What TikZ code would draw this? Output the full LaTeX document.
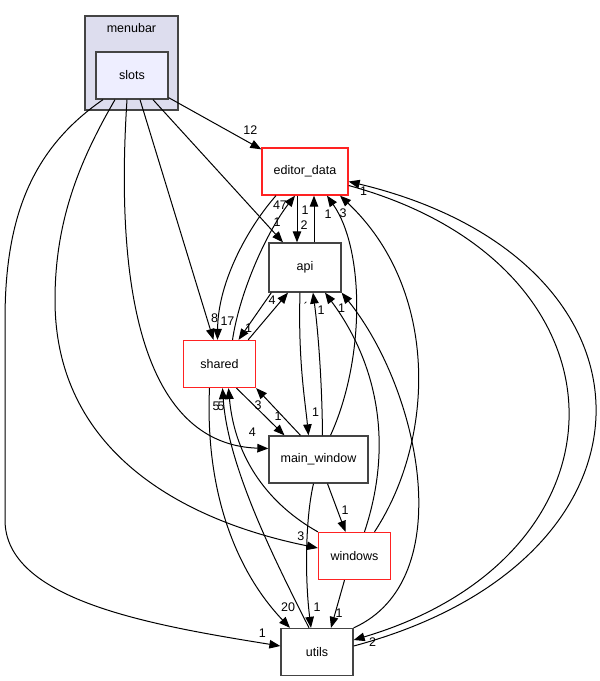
\documentclass[tikz,border=0pt]{standalone}
\usepackage{fontspec}
\setmainfont{Liberation Sans}
\usetikzlibrary{arrows.meta,positioning}
\definecolor{boxgray}{HTML}{444444}
\definecolor{boxred}{HTML}{FF2222}
\definecolor{clusterfill}{HTML}{DDDDEE}
\definecolor{slotsfill}{HTML}{EEEEFF}

\begin{document}
\begin{tikzpicture}[x=1pt, y=-1pt,
        font=\fontsize{12.5}{15}\selectfont,
        >={Triangle[length=11pt,width=8.5pt]},
        dir/.style={draw=boxgray, line width=1.3pt, inner sep=0pt, minimum width=72pt, minimum height=47pt},
        reddir/.style={dir, draw=boxred},
        cluster/.style={draw=boxgray, fill=clusterfill, line width=1.3pt, minimum width=93pt, minimum height=94pt},
        dep/.style={->, line width=1pt},
        lbl/.style={inner sep=0pt, at end}]
        \useasboundingbox (0, 0) rectangle (600, 681);

        \node[cluster] at (131.5, 63)(menubar){};
        \node at (131.5, 28)(menubar-title){menubar};
        \node[dir, fill=slotsfill] at (132, 75.5)(slots){slots};
        \node[reddir, minimum width=86pt] at (305, 171.5)(editor_data){editor\_data};
        \node[dir, minimum height=49pt] at (305, 267.5)(api){api};
        \node[reddir] at (219.5, 364)(shared){shared};
        \node[dir, minimum width=99pt] at (318.5, 459.5)(main_window){main\_window};
        \node[reddir] at (354.5, 556)(windows){windows};
        \node[dir] at (317, 652)(utils){utils};

        % slots
        \draw[dep] ([yshift=2pt]slots.south east) -- ([yshift=-2pt]editor_data.north west) node[lbl, shift={(-11,-19)}]{12};
        \draw[dep] ([xshift=21pt]slots.south) -- ([xshift=-22pt]api.north) node[lbl, shift={(-6,-20)}]{1};
        \draw[dep] ([xshift=8pt]slots.south) -- ([xshift=-6pt]shared.north) node[lbl, shift={(1,-22)}]{8};
        \draw[dep] ([xshift=-5pt]slots.south) .. controls (112, 330) and (160, 445) .. ([yshift=11pt]main_window.west) node[lbl, shift={(-16,-16)}]{4};
        \draw[dep] ([xshift=-17pt]slots.south) .. controls (80, 160) and (55, 220) .. (55, 300)
            .. controls (55, 450) and (180, 520) .. ([yshift=8pt]windows.west) node[lbl, shift={(-17,-12)}]{3};
        \draw[dep] ([xshift=-29pt]slots.south) .. controls (30, 150) and (5, 220) .. (5, 320) -- (5, 520)
            .. controls (5, 600) and (150, 625) .. ([yshift=6pt]utils.west) node[lbl, shift={(-18,-13)}]{1};

        % editor_data
        \draw[dep] ([xshift=13pt]shared.north) .. controls (240, 290) and (268, 230) .. ([xshift=-10pt]editor_data.south) node[lbl, shift={(-15,10)}]{47};
        \draw[dep] ([xshift=-29pt]editor_data.south) .. controls (250, 225) and (218, 280) .. ([xshift=-2pt]shared.north) node[lbl, shift={(10,-19)}]{17};
        \draw[dep] ([xshift=9pt]api.north) -- ([xshift=9pt]editor_data.south) node[lbl, shift={(-9,15)}]{1};
        \draw[dep] ([xshift=-8pt]editor_data.south) -- ([xshift=-8pt]api.north) node[lbl, shift={(7,-17)}]{2};
        \draw[dep] ([xshift=12pt]main_window.north) .. controls (365, 360) and (365, 250) .. ([xshift=22pt]editor_data.south) node[lbl, shift={(1,19)}]{1};
        \draw[dep] ([xshift=20pt]windows.north) .. controls (435, 440) and (440, 290) .. ([xshift=35pt]editor_data.south) node[lbl, shift={(3,18)}]{3};
        \draw[dep] ([yshift=6pt]utils.east) .. controls (676, 560) and (676, 260) .. ([yshift=-10pt]editor_data.east) node[lbl, shift={(15,10)}]{1};
        \draw[dep] ([yshift=-14pt]editor_data.east) .. controls (640, 265) and (640, 555) .. ([yshift=12pt]utils.east) node[lbl, shift={(19,2)}]{2};

        % api
        \draw[dep] ([xshift=-8pt]shared.north east) -- ([xshift=-17pt]api.south) node[lbl, shift={(-16,8)}]{4};
        \draw[dep] ([xshift=3pt]api.south west) -- ([xshift=19pt]shared.north) node[lbl, shift={(10,-12)}]{1};
        \draw[dep] ([xshift=-5pt]api.south) .. controls (298, 360) and (305, 400) .. ([xshift=-10pt]main_window.north) node[lbl, shift={(7,-23)}]{1};
        \draw[dep] ([xshift=4pt]main_window.north) .. controls (322, 380) and (318, 330) .. ([xshift=8pt]api.south) node[lbl, shift={(-7,14)}]{´};
        \draw[dep] ([xshift=10pt]windows.north) .. controls (395, 440) and (375, 360) .. ([xshift=20pt]api.south) node[lbl, shift={(-4,18)}]{1};
        \draw[dep] (utils.north east) .. controls (460, 580) and (420, 390) .. (api.south east) node[lbl, shift={(0,16)}]{1};

        % shared, main_window, windows, utils
        \draw[dep] ([xshift=17pt]shared.south) -- ([xshift=-34pt]main_window.north) node[lbl, shift={(-6.5,-19)}]{1};
        \draw[dep] ([xshift=-18pt]main_window.north) -- (shared.south east) node[lbl, shift={(2,17)}]{3};
        \draw[dep] ([xshift=9pt]main_window.south) -- ([xshift=-9pt]windows.north) node[lbl, shift={(-0.5,-22)}]{1};
        \draw[dep] ([xshift=-5pt]main_window.south) .. controls (305, 520) and (305, 580) .. ([xshift=-6pt]utils.north) node[lbl, shift={(6,-21)}]{1};
        \draw[dep] ([xshift=-10pt]windows.south) -- ([xshift=14pt]utils.north) node[lbl, shift={(8,-15)}]{1};
        \draw[dep] ([xshift=-10pt]shared.south) .. controls (205, 490) and (235, 570) .. ([xshift=-27pt]utils.north) node[lbl, shift={(-2,-21)}]{20};
        \draw[dep] ([xshift=-8pt]utils.north) .. controls (280, 570) and (228, 470) .. ([xshift=3pt]shared.south) node[lbl, shift={(-6.5,18)}]{5};
        \draw[dep] (windows.north west) .. controls (270, 505) and (235, 460) .. ([xshift=9pt]shared.south) node[lbl, shift={(-7.5,18)}]{5};
    \end{tikzpicture}
\end{document}
